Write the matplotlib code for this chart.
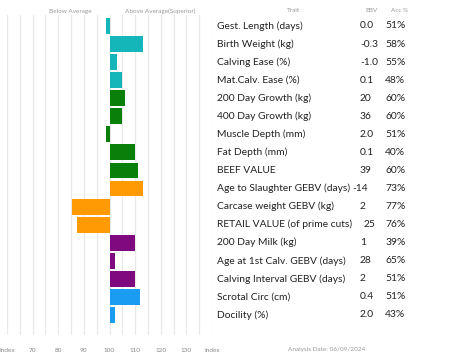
import matplotlib
matplotlib.use("Agg")
import matplotlib.pyplot as plt
from matplotlib.transforms import blended_transform_factory

traits = ["Gest. Length (days)", "Birth Weight (kg)", "Calving Ease (%)", "Mat.Calv. Ease (%)",
          "200 Day Growth (kg)", "400 Day Growth (kg)", "Muscle Depth (mm)", "Fat Depth (mm)",
          "BEEF VALUE", "Age to Slaughter GEBV (days)", "Carcase weight GEBV (kg)",
          "RETAIL VALUE (of prime cuts)", "200 Day Milk (kg)", "Age at 1st Calv. GEBV (days)",
          "Calving Interval GEBV (days)", "Scrotal Circ (cm)", "Docility (%)"]
ebv = ["0.0", "-0.3", "-1.0", "0.1", "20", "36", "2.0", "0.1", "39", "-14", "2", "25",
       "1", "28", "2", "0.4", "2.0"]
acc = ["51%", "58%", "55%", "48%", "60%", "60%", "51%", "40%", "60%", "73%", "77%", "76%",
       "39%", "65%", "51%", "51%", "43%"]
index_vals = [98.8, 113, 103, 105, 106, 105, 98.8, 110, 111, 113, 85.5, 87.5,
              110, 102, 110, 112, 102]
groups = ["calving"] * 4 + ["growth"] * 5 + ["carcase"] * 3 + ["maternal"] * 3 + ["other"] * 2
group_colors = {"calving": "#14B6BA", "growth": "#0A7F0A", "carcase": "#FF9A05",
                "maternal": "#7F0A80", "other": "#1A9CF2"}
tick_vals = [60, 70, 80, 90, 100, 110, 120, 130, 140]
tick_labels = ["Index", "70", "80", "90", "100", "110", "120", "130", "Index"]

W, H = 453, 362
fig = plt.figure(figsize=(W / 100, H / 100), dpi=100)
fig.patch.set_facecolor("white")

def fx(px):
    return px / W

def fy(py):
    return 1 - py / H

# axes: x pixels 7..212, y pixels 15..335
ax = fig.add_axes([fx(7), fy(335), fx(212) - fx(7), (335 - 15) / H])
n = len(traits)
row0, step = 26.0, 18.06
ax.set_xlim(60, 140)
ax.set_ylim((335 - row0) / step, -(row0 - 15) / step)
ys = list(range(n))
ax.barh(ys, [v - 100 for v in index_vals], left=100, height=0.88,
        color=[group_colors[g] for g in groups], zorder=3)
for x in range(60, 141, 5):
    ax.axvline(x, color="#e9e9e9", lw=0.9, zorder=1)
for s in ax.spines.values():
    s.set_visible(False)
ax.set_yticks([])
ax.set_xticks(tick_vals)
ax.set_xticklabels(tick_labels, fontsize=4.6, color="#888888", family="Lato")
ax.tick_params(axis="x", length=0, pad=9)

tr = blended_transform_factory(fig.transFigure, ax.transData)
font = "Lato"
ebv_x = {9: 352, 11: 364}
for i in range(n):
    ax.text(fx(217), i, traits[i], transform=tr, fontsize=7.4, family=font, color="#222222",
            va="center", ha="left", clip_on=False)
    ax.text(fx(ebv_x.get(i, 360)), i, ebv[i], transform=tr, fontsize=7.4, family=font,
            color="#222222", va="center", ha="left", clip_on=False)
    ax.text(fx(385), i, acc[i], transform=tr, fontsize=7.4, family=font, color="#222222",
            va="center", ha="left", clip_on=False)

hdr = dict(fontsize=4.6, family=font, color="#999999", va="center", ha="center")
fig.text(fx(70), fy(11), "Below Average", **hdr)
fig.text(fx(160), fy(11), "Above Average(Superior)", **hdr)
fig.text(fx(293), fy(11), "Trait", **hdr)
fig.text(fx(372), fy(11), "EBV", **hdr)
fig.text(fx(400), fy(11), "Acc %", **hdr)
fig.text(fx(327), fy(350), "Analysis Date: 06/09/2024", **hdr)

fig.savefig("out.png", dpi=100, facecolor="white")
